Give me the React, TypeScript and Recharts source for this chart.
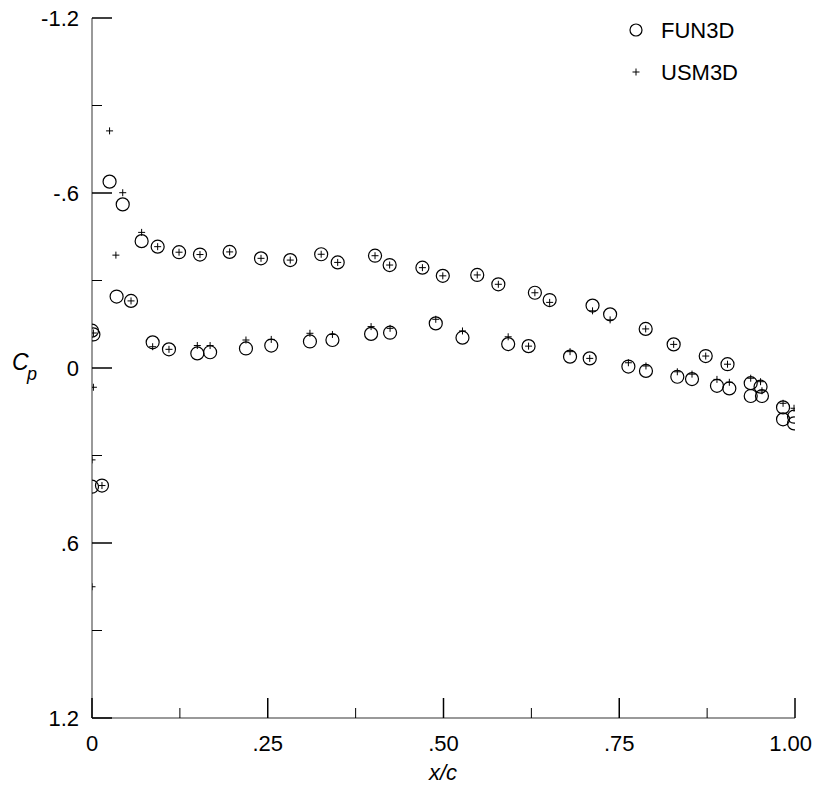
import { ScatterChart, Scatter, XAxis, YAxis, Legend } from "recharts";

// chordwise stations and pressure coefficients
const fun3dX = [
  0.0, 0.0142, 0.0, 0.002, 0.025, 0.035, 0.0437, 0.0555, 0.0706, 0.0863,
  0.0934, 0.1095, 0.1238, 0.1498, 0.1536, 0.168, 0.1958, 0.219, 0.2404, 0.255,
  0.282, 0.31, 0.326, 0.342, 0.3495, 0.397, 0.4026, 0.4234, 0.424, 0.47,
  0.489, 0.499, 0.527, 0.548, 0.578, 0.592, 0.621, 0.63, 0.651, 0.68,
  0.708, 0.712, 0.737, 0.763, 0.7876, 0.788, 0.8274, 0.8326, 0.8535, 0.873,
  0.889, 0.904, 0.9066, 0.937, 0.937, 0.951, 0.953, 0.983, 0.983, 0.9986,
  0.9986,
];
const fun3dCp = [
  0.407, 0.403, -0.128, -0.115, -0.639, -0.245, -0.561, -0.23, -0.435, -0.088,
  -0.416, -0.064, -0.397, -0.05, -0.389, -0.054, -0.398, -0.067, -0.376, -0.077,
  -0.37, -0.091, -0.39, -0.096, -0.362, -0.117, -0.385, -0.353, -0.121, -0.344,
  -0.153, -0.316, -0.104, -0.319, -0.287, -0.082, -0.075, -0.258, -0.233, -0.039,
  -0.033, -0.214, -0.184, -0.005, -0.134, 0.01, -0.081, 0.03, 0.038, -0.041,
  0.061, -0.013, 0.07, 0.052, 0.096, 0.064, 0.096, 0.135, 0.176, 0.167,
  0.19,
];

const usm3dX = [
  0.0, 0.0, 0.002, 0.0142, 0.002, 0.025, 0.034, 0.0437, 0.0555, 0.0706,
  0.0863, 0.0934, 0.1095, 0.1238, 0.1498, 0.1536, 0.168, 0.1958, 0.219, 0.2404,
  0.255, 0.282, 0.31, 0.326, 0.342, 0.3495, 0.397, 0.4026, 0.4234, 0.424,
  0.47, 0.489, 0.499, 0.527, 0.548, 0.578, 0.592, 0.621, 0.63, 0.651,
  0.68, 0.708, 0.712, 0.737, 0.763, 0.7876, 0.788, 0.8274, 0.8326, 0.8535,
  0.873, 0.889, 0.904, 0.9066, 0.937, 0.951, 0.953, 0.983, 0.9986,
];
const usm3dCp = [
  0.75, 0.315, 0.066, 0.403, -0.12, -0.813, -0.387, -0.601, -0.23, -0.465,
  -0.073, -0.416, -0.064, -0.397, -0.077, -0.389, -0.077, -0.398, -0.096, -0.376,
  -0.098, -0.37, -0.119, -0.39, -0.115, -0.362, -0.142, -0.385, -0.353, -0.136,
  -0.344, -0.167, -0.316, -0.127, -0.319, -0.287, -0.107, -0.075, -0.258, -0.225,
  -0.056, -0.033, -0.196, -0.165, -0.018, -0.134, -0.007, -0.081, 0.013, 0.021,
  -0.041, 0.039, -0.013, 0.049, 0.035, 0.047, 0.078, 0.121, 0.138,
];

const xTicks = [0, 0.125, 0.25, 0.375, 0.5, 0.625, 0.75, 0.875, 1];
const yTicks = [-1.2, -0.9, -0.6, -0.3, 0, 0.3, 0.6, 0.9, 1.2];

const fun3d = fun3dX.map((x, i) => ({ x, cp: fun3dCp[i] }));
const usm3d = usm3dX.map((x, i) => ({ x, cp: usm3dCp[i] }));

const FONT = "'Liberation Sans', Arial, sans-serif";

const isMult = (v: number, step: number) =>
  Math.abs(v / step - Math.round(v / step)) < 1e-6;

const fmtX = (v: number) => {
  if (v === 0) return "0";
  if (v === 1) return "1.00";
  return "." + Math.round(v * 100).toString();
};

const fmtY = (v: number) => {
  if (v === 0) return "0";
  const s = Math.abs(v).toFixed(1).replace(/^0/, "");
  return v < 0 ? "-" + s : s;
};

function XTick(props: any) {
  const { x, y, payload } = props;
  const major = isMult(payload.value, 0.25);
  const last = payload.value === 1;
  return (
    <g>
      <line x1={x} x2={x} y1={y} y2={y - (major ? 20 : 10)} stroke="#000" strokeWidth={major ? 1.5 : 1} />
      {major && (
        <text
          x={last ? x + 17 : x}
          y={y + 33}
          textAnchor={last ? "end" : "middle"}
          fontFamily={FONT}
          fontSize={22}
          fill="#000"
        >
          {fmtX(payload.value)}
        </text>
      )}
    </g>
  );
}

function YTick(props: any) {
  const { x, y, payload } = props;
  const major = isMult(payload.value, 0.6);
  return (
    <g>
      <line x1={x} x2={x + (major ? 20 : 10)} y1={y} y2={y} stroke="#000" strokeWidth={major ? 1.5 : 1} />
      {major && (
        <text x={x - 13} y={y + 8} textAnchor="end" fontFamily={FONT} fontSize={22} fill="#000">
          {fmtY(payload.value)}
        </text>
      )}
    </g>
  );
}

const Ring = (props: any) => (
  <circle cx={props.cx} cy={props.cy} r={6.5} fill="none" stroke="#000" strokeWidth={1.2} />
);

const Cross = (props: any) => (
  <g stroke="#000" strokeWidth={1}>
    <line x1={props.cx - 3.5} x2={props.cx + 3.5} y1={props.cy} y2={props.cy} />
    <line x1={props.cx} x2={props.cx} y1={props.cy - 3.5} y2={props.cy + 3.5} />
  </g>
);

function LegendBox(props: any) {
  const items = props.payload || [];
  return (
    <svg width={160} height={90}>
      {items.map((item: any, i: number) => {
        const cy = 22 + i * 42;
        return (
          <g key={item.value}>
            {item.value === "FUN3D" ? (
              <circle cx={18} cy={cy} r={6} fill="none" stroke="#000" strokeWidth={1.2} />
            ) : (
              <g stroke="#000" strokeWidth={1}>
                <line x1={14.5} x2={21.5} y1={cy} y2={cy} />
                <line x1={18} x2={18} y1={cy - 3.5} y2={cy + 3.5} />
              </g>
            )}
            <text x={43} y={cy + 8} fontFamily={FONT} fontSize={22} fill="#000">
              {item.value}
            </text>
          </g>
        );
      })}
    </svg>
  );
}

export default function App() {
  return (
    <div style={{ width: 815, height: 792, background: "#fff" }}>
      <style>{"body{margin:0}"}</style>
      <ScatterChart width={815} height={792} margin={{ top: 18, right: 20, bottom: 0, left: 0 }}>
        <XAxis
          type="number"
          dataKey="x"
          domain={[0, 1]}
          ticks={xTicks}
          interval={0}
          height={74}
          tickSize={0}
          tickMargin={0}
          tickLine={false}
          axisLine={{ stroke: "#777", strokeWidth: 1.5 }}
          tick={<XTick />}
          allowDataOverflow
          label={{
            content: () => (
              <text x={443} y={780} textAnchor="middle" fontFamily={FONT} fontSize={22} fontStyle="italic" fill="#000">
                x/c
              </text>
            ),
          }}
        />
        <YAxis
          type="number"
          dataKey="cp"
          domain={[-1.2, 1.2]}
          reversed
          ticks={yTicks}
          interval={0}
          width={92}
          tickSize={0}
          tickMargin={0}
          tickLine={false}
          axisLine={{ stroke: "#777", strokeWidth: 1.5 }}
          tick={<YTick />}
          allowDataOverflow
          label={{
            content: () => (
              <text fontFamily={FONT} fontStyle="italic" fill="#000">
                <tspan x={12} y={370} fontSize={23}>C</tspan>
                <tspan x={27} y={380} fontSize={18}>p</tspan>
              </text>
            ),
          }}
        />
        <Legend
          layout="vertical"
          align="center"
          verticalAlign="middle"
          wrapperStyle={{ top: 8, left: 618, width: 160, height: 90 }}
          content={<LegendBox />}
        />
        <Scatter name="FUN3D" data={fun3d} shape={<Ring />} isAnimationActive={false} />
        <Scatter name="USM3D" data={usm3d} shape={<Cross />} isAnimationActive={false} />
      </ScatterChart>
    </div>
  );
}
